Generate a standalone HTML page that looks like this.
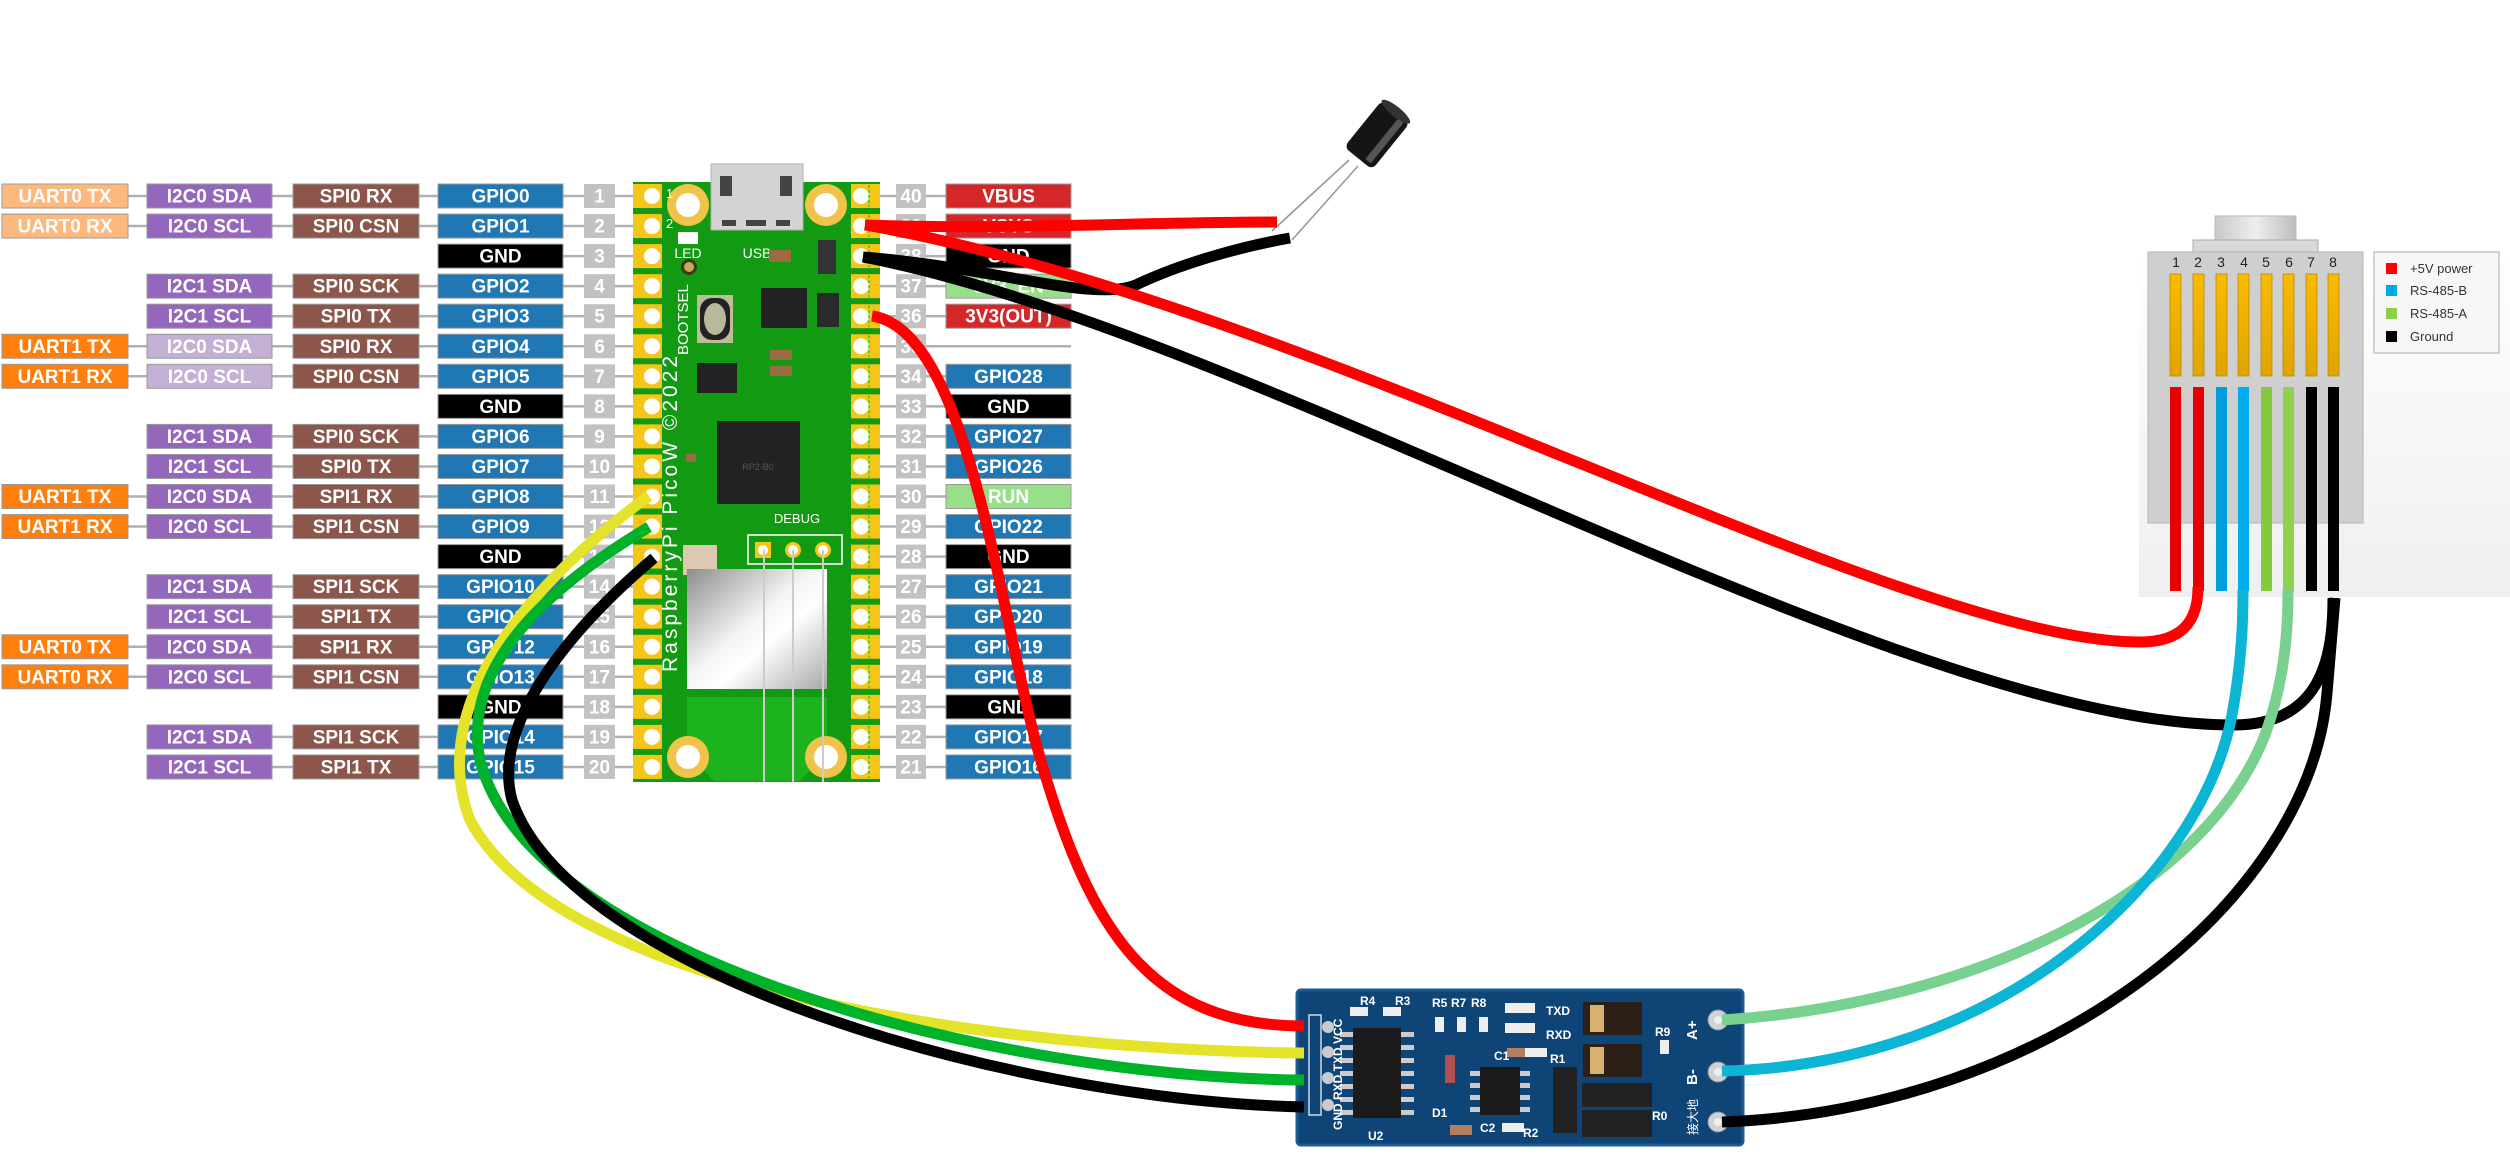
<!DOCTYPE html>
<html><head><meta charset="utf-8">
<style>
html,body{margin:0;padding:0;background:#fff;}
svg{display:block;}
.lb{font-family:"Liberation Sans Narrow","Liberation Sans",sans-serif;font-weight:bold;font-size:19px;fill:#fff;text-anchor:middle;dominant-baseline:central;}
.pn{font-family:"Liberation Sans Narrow","Liberation Sans",sans-serif;font-weight:bold;font-size:19px;fill:#fff;text-anchor:middle;dominant-baseline:central;}
.sm{font-family:"Liberation Sans",sans-serif;fill:#fff;}
.mt{font-family:"Liberation Sans",sans-serif;fill:#fff;font-weight:bold;}
</style></head>
<body>
<svg width="2510" height="1157" viewBox="0 0 2510 1157" xmlns="http://www.w3.org/2000/svg">
<defs>
<linearGradient id="shield" x1="0" y1="0" x2="1" y2="1">
<stop offset="0" stop-color="#8d8d8d"/><stop offset="0.45" stop-color="#f4f4f4"/><stop offset="0.6" stop-color="#ffffff"/><stop offset="1" stop-color="#a8a8a8"/>
</linearGradient>
<linearGradient id="gold" x1="0" y1="0" x2="0" y2="1"><stop offset="0" stop-color="#fbbb00"/><stop offset="1" stop-color="#e0a400"/></linearGradient>
<linearGradient id="panel" x1="0" y1="0" x2="0" y2="1"><stop offset="0" stop-color="#ffffff"/><stop offset="1" stop-color="#efefef"/></linearGradient>
<linearGradient id="cyl" x1="0" y1="0" x2="1" y2="0"><stop offset="0" stop-color="#c8c8c8"/><stop offset="0.5" stop-color="#eeeeee"/><stop offset="1" stop-color="#bdbdbd"/></linearGradient>
</defs>

<g id="left"></g>
<g id="right"></g>

<!-- Board -->
<g>
<rect x="711" y="164" width="92" height="70" fill="#d0d0d0" stroke="#aaa"/>
<rect x="633" y="182" width="247" height="600" fill="#129b12"/>
<polygon points="687,697 827,697 827,752 800,781 714,781 687,752" fill="#1db31d"/>
<rect x="711" y="164" width="92" height="66" fill="#d4d4d4" stroke="#b0b0b0"/>
<rect x="720" y="176" width="12" height="20" fill="#444"/><rect x="780" y="176" width="12" height="20" fill="#444"/>
<rect x="722" y="220" width="14" height="6" fill="#444"/><rect x="746" y="220" width="20" height="6" fill="#444"/><rect x="776" y="220" width="14" height="6" fill="#444"/>
<circle cx="688" cy="205" r="21" fill="#f0c44a"/><circle cx="688" cy="205" r="12" fill="#fff"/>
<circle cx="826" cy="205" r="21" fill="#f0c44a"/><circle cx="826" cy="205" r="12" fill="#fff"/>
<circle cx="688" cy="757" r="21" fill="#f0c44a"/><circle cx="688" cy="757" r="12" fill="#fff"/>
<circle cx="826" cy="757" r="21" fill="#f0c44a"/><circle cx="826" cy="757" r="12" fill="#fff"/>
<rect x="678" y="232" width="20" height="12" fill="#fff"/>
<circle cx="689" cy="267" r="8" fill="#3a3a1a"/><circle cx="689" cy="267" r="5" fill="#c8a85a"/>
<text x="688" y="258" class="sm" font-size="14" text-anchor="middle">LED</text>
<text x="757" y="258" class="sm" font-size="14" text-anchor="middle">USB</text>
<text x="850" y="234" class="sm" font-size="13">39</text>
<text x="666" y="198" class="sm" font-size="13">1</text>
<text x="666" y="228" class="sm" font-size="13">2</text>
<rect x="697" y="295" width="36" height="48" fill="#bdbd9a"/><rect x="700" y="298" width="30" height="42" rx="12" fill="#222"/><ellipse cx="715" cy="319" rx="11" ry="16" fill="#b8b89a"/>
<text transform="translate(688,355) rotate(-90)" class="sm" font-size="15">BOOTSEL</text>
<rect x="761" y="288" width="46" height="40" fill="#222"/>
<rect x="817" y="293" width="22" height="34" fill="#2a2a2a"/>
<rect x="818" y="240" width="18" height="34" fill="#333"/>
<rect x="769" y="250" width="22" height="12" fill="#9a6a40"/>
<rect x="770" y="350" width="22" height="10" fill="#9a6a40"/><rect x="770" y="366" width="22" height="10" fill="#9a6a40"/>
<rect x="697" y="363" width="40" height="30" fill="#222"/>
<rect x="717" y="421" width="83" height="83" fill="#222"/>
<text x="758" y="470" class="sm" font-size="9" text-anchor="middle" fill="#555" style="fill:#555">RP2-B0</text>
<text transform="translate(677,672) rotate(-90)" class="sm" font-size="21" letter-spacing="3">RaspberryPi PicoW ©2022</text>
<rect x="683" y="455" width="0" height="0"/>
<rect x="686" y="454" width="10" height="8" fill="#9a6a40"/>
<rect x="703" y="455" width="34" height="30" fill="#ddc8b4" transform="translate(-20,90)"/>
<text x="797" y="523" class="sm" font-size="13" text-anchor="middle">DEBUG</text>
<rect x="748" y="535" width="94" height="29" fill="none" stroke="#fff" stroke-width="1.5"/>
<rect x="755" y="542" width="16" height="16" fill="#f5c518"/><circle cx="763" cy="550" r="5" fill="#fff"/>
<circle cx="793" cy="550" r="8" fill="#f5c518"/><circle cx="793" cy="550" r="5" fill="#fff"/>
<circle cx="823" cy="550" r="8" fill="#f5c518"/><circle cx="823" cy="550" r="5" fill="#fff"/>
<rect x="687" y="569" width="140" height="120" fill="url(#shield)"/>
<line x1="764" y1="550" x2="764" y2="782" stroke="#ccc" stroke-width="2"/>
<line x1="793" y1="550" x2="793" y2="782" stroke="#ccc" stroke-width="2"/>
<line x1="823" y1="550" x2="823" y2="782" stroke="#ccc" stroke-width="2"/>
</g>
<g id="pads"></g>

<!-- RJ45 -->
<g>
<rect x="2139" y="251" width="371" height="346" fill="url(#panel)"/>
<rect x="2215" y="216" width="81" height="25" fill="url(#cyl)" stroke="#bbb"/>
<rect x="2193" y="240" width="125" height="12" fill="#d8d8d8" stroke="#aaa"/>
<rect x="2148" y="252" width="215" height="271" fill="#cfcfcf" stroke="#b4b4b4"/>
<g font-family="Liberation Sans,sans-serif" font-size="14" fill="#222" text-anchor="middle">
<text x="2176" y="267">1</text><text x="2198" y="267">2</text><text x="2221" y="267">3</text><text x="2244" y="267">4</text><text x="2266" y="267">5</text><text x="2289" y="267">6</text><text x="2311" y="267">7</text><text x="2333" y="267">8</text>
</g>
<g fill="url(#gold)" stroke="#b88a00" stroke-width="0.8">
<rect x="2170" y="274" width="11" height="102"/><rect x="2193" y="274" width="11" height="102"/><rect x="2216" y="274" width="11" height="102"/><rect x="2238" y="274" width="11" height="102"/><rect x="2261" y="274" width="11" height="102"/><rect x="2283" y="274" width="11" height="102"/><rect x="2306" y="274" width="11" height="102"/><rect x="2328" y="274" width="11" height="102"/>
</g>
<rect x="2170" y="387" width="11" height="204" fill="#e60000"/><rect x="2193" y="387" width="11" height="204" fill="#e60000"/>
<rect x="2216" y="387" width="11" height="204" fill="#009fdb"/><rect x="2238" y="387" width="11" height="204" fill="#00aeef"/>
<rect x="2261" y="387" width="11" height="204" fill="#86c940"/><rect x="2283" y="387" width="11" height="204" fill="#92d050"/>
<rect x="2306" y="387" width="11" height="204" fill="#000"/><rect x="2328" y="387" width="11" height="204" fill="#000"/>
<rect x="2374" y="252" width="125" height="101" fill="#f7f7f7" stroke="#aaa"/>
<g font-family="Liberation Sans,sans-serif" font-size="13" fill="#333">
<rect x="2386" y="263" width="11" height="11" fill="#f00"/><text x="2410" y="273">+5V power</text>
<rect x="2386" y="285" width="11" height="11" fill="#00a8e8"/><text x="2410" y="295">RS-485-B</text>
<rect x="2386" y="308" width="11" height="11" fill="#8cd04a"/><text x="2410" y="318">RS-485-A</text>
<rect x="2386" y="331" width="11" height="11" fill="#000"/><text x="2410" y="341">Ground</text>
</g>
</g>

<!-- Capacitor -->
<g>
<line x1="1349" y1="160" x2="1272" y2="231" stroke="#999" stroke-width="1.6"/>
<line x1="1358" y1="166" x2="1292" y2="240" stroke="#999" stroke-width="1.6"/>
<g transform="translate(1377,135) rotate(-51)">
<rect x="-30" y="-18" width="60" height="36" rx="6" fill="#151515"/>
<rect x="-26" y="6" width="52" height="7" fill="#555"/>
<ellipse cx="30" cy="0" rx="5" ry="18" fill="#333"/>
</g>
</g>

<!-- RS485 module -->
<g>
<rect x="1297" y="990" width="446" height="155" rx="4" fill="#0e4476"/>
<rect x="1297" y="990" width="446" height="155" rx="4" fill="none" stroke="#1b5a93" stroke-width="3"/>
<rect x="1353" y="1028" width="48" height="90" fill="#1b1b1b"/>
<g fill="#ccc"><rect x="1340" y="1032" width="13" height="5"/><rect x="1340" y="1045" width="13" height="5"/><rect x="1340" y="1058" width="13" height="5"/><rect x="1340" y="1071" width="13" height="5"/><rect x="1340" y="1084" width="13" height="5"/><rect x="1340" y="1097" width="13" height="5"/><rect x="1340" y="1110" width="13" height="5"/>
<rect x="1401" y="1032" width="13" height="5"/><rect x="1401" y="1045" width="13" height="5"/><rect x="1401" y="1058" width="13" height="5"/><rect x="1401" y="1071" width="13" height="5"/><rect x="1401" y="1084" width="13" height="5"/><rect x="1401" y="1097" width="13" height="5"/><rect x="1401" y="1110" width="13" height="5"/>
<rect x="1470" y="1071" width="10" height="5"/><rect x="1470" y="1083" width="10" height="5"/><rect x="1470" y="1095" width="10" height="5"/><rect x="1470" y="1107" width="10" height="5"/>
<rect x="1520" y="1071" width="10" height="5"/><rect x="1520" y="1083" width="10" height="5"/><rect x="1520" y="1095" width="10" height="5"/><rect x="1520" y="1107" width="10" height="5"/></g>
<rect x="1480" y="1067" width="40" height="48" fill="#1b1b1b"/>
<rect x="1583" y="1002" width="59" height="33" fill="#2a2018"/><rect x="1590" y="1005" width="14" height="27" fill="#d8b070"/>
<rect x="1583" y="1044" width="59" height="33" fill="#2a2018"/><rect x="1590" y="1047" width="14" height="27" fill="#d8b070"/>
<rect x="1553" y="1067" width="24" height="66" fill="#222"/>
<rect x="1582" y="1083" width="70" height="24" fill="#222"/>
<rect x="1582" y="1110" width="70" height="27" fill="#222"/>
<rect x="1445" y="1055" width="10" height="28" fill="#b05050"/>
<rect x="1450" y="1125" width="22" height="10" fill="#b08060"/>
<rect x="1507" y="1048" width="20" height="9" fill="#b08060"/>
<g fill="#eee"><rect x="1350" y="1007" width="18" height="9"/><rect x="1383" y="1007" width="18" height="9"/><rect x="1435" y="1017" width="9" height="15"/><rect x="1457" y="1017" width="9" height="15"/><rect x="1479" y="1017" width="9" height="15"/><rect x="1505" y="1003" width="30" height="10"/><rect x="1505" y="1023" width="30" height="10"/><rect x="1525" y="1048" width="22" height="9"/><rect x="1502" y="1123" width="22" height="9"/><rect x="1660" y="1040" width="9" height="14"/></g>
<g class="mt" font-size="12">
<text x="1360" y="1005">R4</text><text x="1395" y="1005">R3</text><text x="1432" y="1007">R5</text><text x="1451" y="1007">R7</text><text x="1471" y="1007">R8</text>
<text x="1546" y="1015">TXD</text><text x="1546" y="1039">RXD</text><text x="1494" y="1060">C1</text><text x="1550" y="1063">R1</text>
<text x="1432" y="1117">D1</text><text x="1480" y="1132">C2</text><text x="1523" y="1137">R2</text><text x="1368" y="1140">U2</text><text x="1655" y="1036">R9</text><text x="1652" y="1120">R0</text>
</g>
<text transform="translate(1342,1130) rotate(-90)" class="mt" font-size="12">GND  RXD  TXD  VCC</text>
<text transform="translate(1697,1040) rotate(-90)" class="mt" font-size="15">A+</text>
<text transform="translate(1697,1085) rotate(-90)" class="mt" font-size="15">B-</text>
<text transform="translate(1697,1135) rotate(-90)" font-family="Liberation Sans,'Noto Sans CJK SC',sans-serif" fill="#fff" font-size="12">接大地</text>
<rect x="1309" y="1015" width="12" height="100" fill="none" stroke="#cfd8e0" stroke-width="1.5"/>
<g fill="#c8ccd0"><circle cx="1328" cy="1027" r="6"/><circle cx="1328" cy="1052" r="6"/><circle cx="1328" cy="1078" r="6"/><circle cx="1328" cy="1105" r="6"/></g>
<g fill="#cfd3d6" stroke="#8a9096" stroke-width="1"><circle cx="1718" cy="1020" r="10"/><circle cx="1718" cy="1072" r="10"/><circle cx="1718" cy="1122" r="10"/></g>
<g fill="#eee"><circle cx="1718" cy="1020" r="4"/><circle cx="1718" cy="1072" r="4"/><circle cx="1718" cy="1122" r="4"/></g>
</g>

<!-- Wires -->
<g fill="none" stroke-width="11">
<path d="M865,225 C 1000,230 1150,222 1277,222" stroke="#ff0000"/>
<path d="M863,257 C 1000,268 1100,305 1140,283 C 1190,260 1250,245 1290,238" stroke="#000"/>
<path d="M863,257 C 1250,330 1900,725 2233,725 C 2320,725 2333,660 2333,598" stroke="#000"/>
<path d="M865,225 C 1300,300 1900,642 2140,642 C 2190,642 2198,612 2198,587" stroke="#ff0000"/>
<path d="M872,316 C 970,330 1000,620 1041,761 C 1090,930 1150,1026 1304,1026" stroke="#ff0000"/>
<path d="M649,496 C 560,560 420,690 470,820 C 560,990 1000,1050 1304,1053" stroke="#e3e32a"/>
<path d="M649,527 C 560,580 460,660 480,760 C 530,960 1000,1078 1304,1080" stroke="#00b22a"/>
<path d="M654,558 C 580,620 490,720 512,800 C 570,970 1000,1100 1304,1107" stroke="#000"/>
<path d="M1722,1020 C 1960,1005 2200,900 2265,735 C 2285,680 2288,630 2288,590" stroke="#78d18f"/>
<path d="M1722,1071 C 2000,1065 2200,880 2232,715 C 2242,660 2243,620 2243,590" stroke="#0bb5d3"/>
<path d="M1722,1122 C 2050,1110 2310,900 2327,693 L 2335,598" stroke="#000"/>
</g>
</svg>

<script>
(function(){
var NS="http://www.w3.org/2000/svg";
function el(p,t,a,txt){var e=document.createElementNS(NS,t);for(var k in a)e.setAttribute(k,a[k]);if(txt!==undefined)e.textContent=txt;p.appendChild(e);return e;}
var L=document.getElementById('left'),R=document.getElementById('right'),P=document.getElementById('pads');
var C={u0:'#fdb97d',u1:'#ff7f0e',i:'#9467bd',il:'#c5b0d5',s:'#8c564b',g:'#1f77b4',k:'#000',r:'#d62728',lg:'#98df8a'};
function box(p,x,w,y,c,t){el(p,'rect',{x:x,y:y-12,width:w,height:24,fill:c,stroke:'#9a9a9a','stroke-width':1});el(p,'text',{x:x+w/2,y:y+1,'class':'lb'},t);}
var rows=[
['UART0 TX','u0','I2C0 SDA','i','SPI0 RX','GPIO0','g'],
['UART0 RX','u0','I2C0 SCL','i','SPI0 CSN','GPIO1','g'],
[null,0,null,0,null,'GND','k'],
[null,0,'I2C1 SDA','i','SPI0 SCK','GPIO2','g'],
[null,0,'I2C1 SCL','i','SPI0 TX','GPIO3','g'],
['UART1 TX','u1','I2C0 SDA','il','SPI0 RX','GPIO4','g'],
['UART1 RX','u1','I2C0 SCL','il','SPI0 CSN','GPIO5','g'],
[null,0,null,0,null,'GND','k'],
[null,0,'I2C1 SDA','i','SPI0 SCK','GPIO6','g'],
[null,0,'I2C1 SCL','i','SPI0 TX','GPIO7','g'],
['UART1 TX','u1','I2C0 SDA','i','SPI1 RX','GPIO8','g'],
['UART1 RX','u1','I2C0 SCL','i','SPI1 CSN','GPIO9','g'],
[null,0,null,0,null,'GND','k'],
[null,0,'I2C1 SDA','i','SPI1 SCK','GPIO10','g'],
[null,0,'I2C1 SCL','i','SPI1 TX','GPIO11','g'],
['UART0 TX','u1','I2C0 SDA','i','SPI1 RX','GPIO12','g'],
['UART0 RX','u1','I2C0 SCL','i','SPI1 CSN','GPIO13','g'],
[null,0,null,0,null,'GND','k'],
[null,0,'I2C1 SDA','i','SPI1 SCK','GPIO14','g'],
[null,0,'I2C1 SCL','i','SPI1 TX','GPIO15','g']];
var right=[['VBUS','r'],['VSYS','r'],['GND','k'],['3V3_EN','lg'],['3V3(OUT)','r'],null,['GPIO28','g'],['GND','k'],['GPIO27','g'],['GPIO26','g'],['RUN','lg'],['GPIO22','g'],['GND','k'],['GPIO21','g'],['GPIO20','g'],['GPIO19','g'],['GPIO18','g'],['GND','k'],['GPIO17','g'],['GPIO16','g']];
for(var i=0;i<20;i++){
 var y=196+30.05*i,r=rows[i];
 var sx=r[0]?64:(r[2]?210:500);
 el(L,'line',{x1:sx,y1:y,x2:640,y2:y,stroke:'#b0b0b0','stroke-width':2.5});
 if(r[0])box(L,2,126,y,C[r[1]],r[0]);
 if(r[2])box(L,147,125,y,C[r[3]],r[2]);
 if(r[4])box(L,293,126,y,C.s,r[4]);
 box(L,438,125,y,C[r[6]],r[5]);
 el(L,'rect',{x:584,y:y-12,width:31,height:24,fill:'#c2c2c2'});
 el(L,'text',{x:599.5,y:y+1,'class':'pn'},String(i+1));
 var rr=right[i];
 el(R,'line',{x1:870,y1:y,x2:rr?960:1071,y2:y,stroke:'#b0b0b0','stroke-width':2.5});
 el(R,'rect',{x:896,y:y-12,width:30,height:24,fill:'#c2c2c2'});
 el(R,'text',{x:911,y:y+1,'class':'pn'},String(40-i));
 if(rr)box(R,946,125,y,C[rr[1]],rr[0]);
 // pads
 el(P,'rect',{x:633,y:y-12,width:29,height:24,fill:'#f5c518'});
 el(P,'circle',{cx:652,cy:y,r:8,fill:'#fff'});
 el(P,'rect',{x:851,y:y-12,width:29,height:24,fill:'#f5c518'});
 el(P,'circle',{cx:861,cy:y,r:8,fill:'#fff'});
 el(P,'line',{x1:869,y1:y-11,x2:869,y2:y+11,stroke:'#2ad12a','stroke-width':1.5,'stroke-dasharray':'3,2'});
}
})();
</script>
</body></html>
